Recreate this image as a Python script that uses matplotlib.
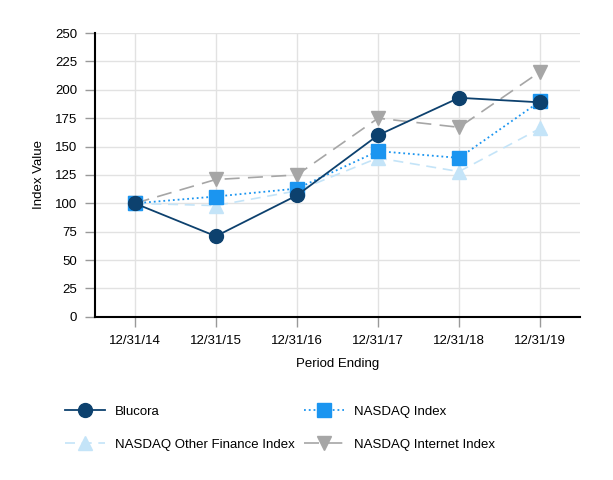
import matplotlib.pyplot as plt
import numpy as np

plt.rcParams['font.family'] = ['Liberation Sans', 'DejaVu Sans']

# data
periods = ["12/31/14", "12/31/15", "12/31/16", "12/31/17", "12/31/18", "12/31/19"]
blucora = [100, 71, 107, 160, 193, 189]
nasdaq = [100, 106, 113, 146, 140, 190]
other_fin = [100, 98, 111, 140, 128, 166]
internet = [100, 121, 125, 175, 167, 216]

x = np.arange(len(periods))

fig = plt.figure(figsize=(6.13, 4.8), dpi=100)
ax = fig.add_axes([0.155, 0.340, 0.791, 0.591])

# lighter series first so Blucora sits on top
ax.plot(x, internet, color="#a6a6a6", linestyle=(0, (9, 5)), linewidth=1.2,
        marker="v", markersize=10, label="NASDAQ Internet Index", zorder=3)
ax.plot(x, other_fin, color="#c4e4f8", linestyle=(0, (6, 4)), linewidth=1.2,
        marker="^", markersize=10, label="NASDAQ Other Finance Index", zorder=4)
ax.plot(x, nasdaq, color="#1b95f0", linestyle=":", linewidth=1.3,
        marker="s", markersize=10, label="NASDAQ Index", zorder=5)
ax.plot(x, blucora, color="#0d416e", linestyle="-", linewidth=1.3,
        marker="o", markersize=10, label="Blucora", zorder=6)

ax.set_xlim(-0.49, len(periods) - 0.51)
ax.set_ylim(0, 250)
ax.set_yticks(np.arange(0, 251, 25))
ax.set_xticks(x)
ax.set_xticklabels(periods)

ax.grid(True, color="#e2e2e2", linewidth=1)
ax.set_axisbelow(True)
for s in ["top", "right"]:
    ax.spines[s].set_visible(False)
for s in ["left", "bottom"]:
    ax.spines[s].set_color("black")
    ax.spines[s].set_linewidth(1.5)

ax.tick_params(axis="both", colors="#999999", labelcolor="black",
               labelsize=9.5, length=7, width=1)
ax.tick_params(axis="x", pad=6)
ax.tick_params(axis="y", pad=6)

ax.set_xlabel("Period Ending", fontsize=9.5, labelpad=8)
ax.set_ylabel("Index Value", fontsize=9.5, labelpad=7)

# legend: two columns, order as in the reference
handles, labels = ax.get_legend_handles_labels()
order = ["Blucora", "NASDAQ Other Finance Index", "NASDAQ Index", "NASDAQ Internet Index"]
hmap = dict(zip(labels, handles))
fig.legend([hmap[k] for k in order], order, ncol=2, frameon=False,
           loc="upper left", bbox_to_anchor=(0.087, 0.180),
           fontsize=9.5, handlelength=3, handletextpad=0.8,
           columnspacing=0.7, labelspacing=1.6)

fig.savefig("out.png", dpi=100)
